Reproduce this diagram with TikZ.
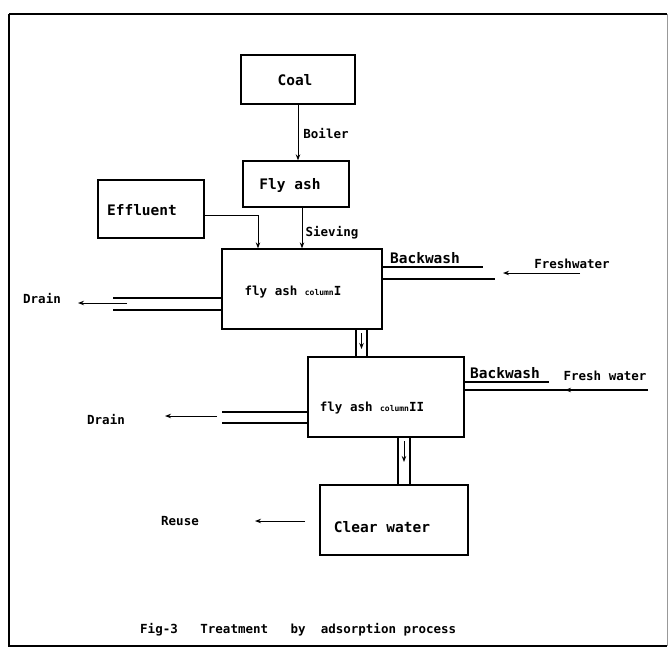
\documentclass[tikz,border=0pt]{standalone}
\usepackage{fontspec}
\setmainfont{DejaVu Sans}
\newfontfamily\stencil{DejaVu Sans Mono}
\usetikzlibrary{arrows.meta,calc}
\begin{document}
\begin{tikzpicture}[x=1pt,y=-1pt,
  box/.style={draw,line width=1.3pt,inner sep=0pt},
  lbl/.style={font=\stencil\bfseries\fontsize{12.5}{13}\selectfont,inner sep=0pt},
  big/.style={font=\stencil\bfseries\fontsize{14.5}{15}\selectfont,inner sep=0pt},
  arr/.style={-{Stealth[length=6pt,width=4.5pt]},line width=1pt},
  pipe/.style={line width=1.1pt}]
\useasboundingbox (0,0) rectangle (669,651);
% frame
\draw[line width=1.8pt] (9,14) -- (667,14);
\draw[line width=1.8pt] (9,14) -- (9,646) -- (667,646);
\draw[line width=0.4pt,black!40] (667,14) -- (667,646);

% boxes
\node[box,minimum width=114pt,minimum height=49pt] (coal) at (298,79.5) {};
\node[box,minimum width=106pt,minimum height=46pt] (flyash) at (296,184) {};
\node[box,minimum width=106pt,minimum height=58pt] (effluent) at (151,209) {};
\node[box,minimum width=160pt,minimum height=80pt] (col1) at (302,289) {};
\node[box,minimum width=156pt,minimum height=80pt] (col2) at (386,397) {};
\node[box,minimum width=148pt,minimum height=70pt] (clear) at (394,520) {};

% box texts
\node[big] (coaltxt) at (295,80) {Coal};
\node[big] (flytxt) at (290,185) {Fly ash};
\node[big] (efftxt) at (142,210) {Effluent};
\node[lbl] (c1txt) at (293,292) {fly ash {\fontsize{8}{8}\selectfont column}I};
\node[lbl] (c2txt) at (372,408) {fly ash {\fontsize{8}{8}\selectfont column}II};
\node[big] (cltxt) at (382,527) {Clear water};

% flow labels
\node[lbl] (boiler) at (326,134) {Boiler};
\node[lbl] (sieving) at (332,233) {Sieving};
\node[big] (bw1) at (425,258) {Backwash};
\node[lbl] (fw1) at (572,264) {Freshwater};
\node[lbl] (drain1) at (42,299) {Drain};
\node[big] (bw2) at (505,373) {Backwash};
\node[lbl] (fw2) at (605,376) {Fresh water};
\node[lbl] (drain2) at (106,419) {Drain};
\node[lbl] (reuse) at (180,521) {Reuse};
\node[lbl,anchor=west] (cap) at (140,630) {Fig-3\ \ \ Treatment\ \ \ by\ \ adsorption process};

% main connectors
\draw[arr] (coal.south) -- (coal.south |- flyash.north);
\draw[arr] (col1.north |- flyash.south) -- (col1.north);
\draw[arr] ([yshift=-6pt]effluent.east) -| ([xshift=-44pt]col1.north);

% backwash / fresh water column I
\coordinate (b1a) at (483,267);
\coordinate (b1b) at (495,279);
\draw[pipe] (col1.east |- b1a) -- (b1a);
\draw[pipe] (col1.east |- b1b) -- (b1b);
\coordinate (f1s) at (580,273);
\coordinate (f1e) at (503,273);
\draw[arr] (f1s) -- (f1e);

% drain column I
\coordinate (d1a) at (113,298);
\coordinate (d1b) at (113,310);
\draw[pipe] (col1.west |- d1a) -- (d1a);
\draw[pipe] (col1.west |- d1b) -- (d1b);
\coordinate (d1s) at (127,303);
\coordinate (d1e) at (78,303);
\draw[arr] (d1s) -- (d1e);

% column I -> column II
\draw[pipe] ([xshift=54pt]col1.south) -- ([xshift=54pt]col1.south |- col2.north);
\draw[pipe] ([xshift=65pt]col1.south) -- ([xshift=65pt]col1.south |- col2.north);
\coordinate (m1s) at (361.5,333);
\coordinate (m1e) at (361.5,349);
\draw[arr] (m1s) -- (m1e);

% backwash / fresh water column II
\coordinate (b2a) at (549,382);
\coordinate (b2b) at (648,390);
\draw[pipe] (col2.east |- b2a) -- (b2a);
\draw[pipe] (col2.east |- b2b) -- (b2b);
\coordinate (f2e) at (565,390);
\draw[arr] (b2b) -- (f2e);

% drain column II
\coordinate (d2a) at (222,412);
\coordinate (d2b) at (222,423);
\draw[pipe] (col2.west |- d2a) -- (d2a);
\draw[pipe] (col2.west |- d2b) -- (d2b);
\coordinate (d2s) at (217,416);
\coordinate (d2e) at (165,416);
\draw[arr] (d2s) -- (d2e);

% column II -> clear water
\draw[pipe] ([xshift=12pt]col2.south) -- ([xshift=12pt]col2.south |- clear.north);
\draw[pipe] ([xshift=24pt]col2.south) -- ([xshift=24pt]col2.south |- clear.north);
\coordinate (m2s) at (404,441);
\coordinate (m2e) at (404,462);
\draw[arr] (m2s) -- (m2e);

% reuse
\coordinate (r1s) at (305,521);
\coordinate (r1e) at (255,521);
\draw[arr] (r1s) -- (r1e);
\end{tikzpicture}
\end{document}
